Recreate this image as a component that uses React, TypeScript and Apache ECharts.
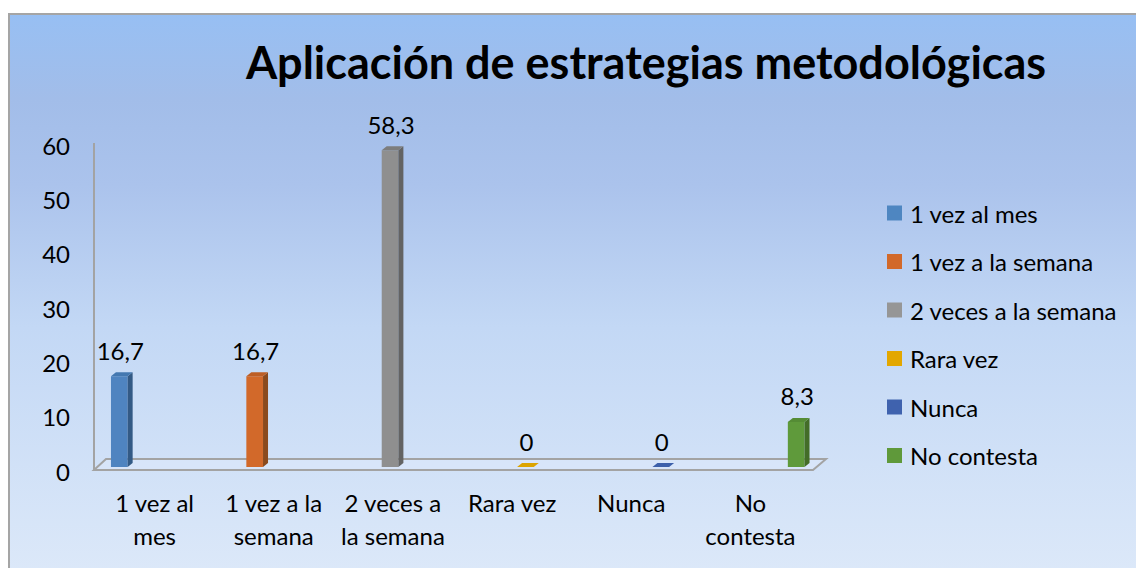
import React, { useEffect, useRef } from "react";
import * as echarts from "echarts";

const TITLE = "Aplicación de estrategias metodológicas";
const categories = ["1 vez al mes", "1 vez a la semana", "2 veces a la semana", "Rara vez", "Nunca", "No contesta"];
const categoryTickLabels = ["1 vez al\nmes", "1 vez a la\nsemana", "2 veces a\nla semana", "Rara vez", "Nunca", "No\ncontesta"];
const values = [16.7, 16.7, 58.3, 0, 0, 8.3];
const yMin = 0;
const yMax = 60;
const yInterval = 10;

const legendColors = ["#4e86c1", "#d2692a", "#969696", "#e3a700", "#3f62ae", "#5f993a"];
const frontColors = ["#4f84c0", "#d2692a", "#8f8f8f", "#dca400", "#3d60aa", "#5f9a3b"];
const sideColors = ["#335a85", "#8b4a1d", "#636363", "#9a7300", "#2a4476", "#436d28"];
const topColors = ["#4478b0", "#bd5e25", "#7d7d7d", "#d09a00", "#35559a", "#558c35"];

const FONT = "Lato";
const FS = 24;

function fmt(v: number) {
  return String(v).replace(".", ",");
}

export default function App() {
  const ref = useRef<HTMLDivElement>(null);
  useEffect(() => {
    if (!ref.current) return;
    const chart = echarts.init(ref.current, null, { renderer: "svg" });

    const floorSeries: any = {
      type: "custom",
      name: "__floor",
      z: 1,
      silent: true,
      data: [[0, 0]],
      renderItem: (params: any, api: any) => {
        const band = api.size([1, 0])[0];
        const p0 = api.coord([0, 0]);
        const p5 = api.coord([categories.length - 1, 0]);
        const pTop = api.coord([0, yMax]);
        const left = p0[0] - band / 2;
        const right = p5[0] + band / 2;
        const y0 = p0[1];
        return {
          type: "group",
          children: [
            {
              type: "polygon",
              shape: {
                points: [
                  [left - 1, y0 + 3],
                  [left + 11, y0 - 8],
                  [right + 16, y0 - 8],
                  [right + 3, y0 + 3],
                ],
              },
              style: { fill: "rgba(220,232,250,0.6)", stroke: "#a3a3a3", lineWidth: 2 },
            },
            {
              type: "line",
              shape: { x1: left - 1, y1: pTop[1] + 2, x2: left - 1, y2: y0 + 3 },
              style: { stroke: "#a3a3a3", lineWidth: 2 },
            },
          ],
        };
      },
    };

    const barSeries = categories.map((name, i) => ({
      type: "custom",
      name,
      z: 3,
      itemStyle: { color: legendColors[i] },
      data: [[i, values[i]]],
      renderItem: (params: any, api: any) => {
        const c = api.value(0);
        const v = api.value(1);
        const base = api.coord([c, 0]);
        const top = api.coord([c, v]);
        const band = api.size([1, 0])[0];
        const x0 = base[0] - band / 2 + band * (0.134 + 0.136 * i);
        const w = band * 0.14;
        const yb = base[1];
        const yt = top[1];
        const dx = 5;
        const dy = 4;
        const children: any[] = [];
        if (yb - yt > 0.5) {
          children.push({
            type: "rect",
            shape: { x: x0, y: yt, width: w, height: yb - yt },
            style: { fill: frontColors[i] },
          });
          children.push({
            type: "polygon",
            shape: { points: [[x0 + w, yt], [x0 + w + dx, yt - dy], [x0 + w + dx, yb - dy], [x0 + w, yb]] },
            style: { fill: sideColors[i] },
          });
        }
        children.push({
          type: "polygon",
          shape: { points: [[x0, yt], [x0 + dx, yt - dy], [x0 + w + dx, yt - dy], [x0 + w, yt]] },
          style: { fill: yb - yt > 0.5 ? topColors[i] : frontColors[i] },
        });
        children.push({
          type: "text",
          style: {
            text: fmt(v),
            x: x0 + w / 2 + 1,
            y: yt - dy - 22,
            align: "center",
            verticalAlign: "middle",
            fontSize: FS,
            fontFamily: FONT,
            fill: "#000",
          },
        });
        return { type: "group", children };
      },
    }));

    chart.setOption({
      animation: false,
      backgroundColor: "transparent",
      graphic: [
        {
          type: "rect",
          z: -10,
          shape: { x: 9, y: 14, width: 1140, height: 570 },
          style: {
            fill: new echarts.graphic.LinearGradient(0, 0, 0, 1, [
              { offset: 0, color: "#97bff3" },
              { offset: 0.15, color: "#a2bde9" },
              { offset: 0.3, color: "#abc3ec" },
              { offset: 0.55, color: "#c3d8f5" },
              { offset: 1, color: "#dde9f9" },
            ]),
            stroke: "#a5a5a5",
            lineWidth: 2,
          },
        },
        {
          type: "text",
          z: 10,
          style: {
            text: TITLE,
            x: 646,
            y: 62,
            align: "center",
            verticalAlign: "middle",
            fontSize: 45,
            fontWeight: "bold",
            fontFamily: FONT,
            fill: "#000",
          },
        },
      ],
      grid: { left: 95, top: 141, width: 715, height: 326, containLabel: false },
      legend: {
        orient: "vertical",
        left: 882,
        top: 196,
        itemWidth: 15,
        itemHeight: 15,
        itemGap: 24.5,
        icon: "rect",
        selectedMode: false,
        data: categories,
        textStyle: { fontSize: FS, lineHeight: 22, fontFamily: FONT, color: "#000", padding: [0, 0, 0, 3] },
      },
      xAxis: {
        type: "category",
        data: categories,
        axisLine: { show: false },
        axisTick: { show: false },
        axisLabel: {
          interval: 0,
          margin: 19,
          fontSize: FS,
          lineHeight: 33,
          fontFamily: FONT,
          color: "#000",
          formatter: (val: string, idx: number) => categoryTickLabels[idx],
        },
      },
      yAxis: {
        type: "value",
        min: yMin,
        max: yMax,
        interval: yInterval,
        splitLine: { show: false },
        axisLine: { show: false },
        axisTick: { show: false },
        axisLabel: {
          fontSize: FS,
          fontFamily: FONT,
          color: "#000",
          margin: 25,
          formatter: (v: number) => `{a|${v}}`,
          rich: { a: { fontSize: FS, fontFamily: FONT, color: "#000", lineHeight: 32, verticalAlign: "bottom" } },
        },
      },
      series: [floorSeries, ...barSeries],
    });
    return () => chart.dispose();
  }, []);
  return (
    <div
      ref={ref}
      style={{ position: "fixed", left: 0, top: 0, width: 1136, height: 568, background: "#fff" }}
    />
  );
}
